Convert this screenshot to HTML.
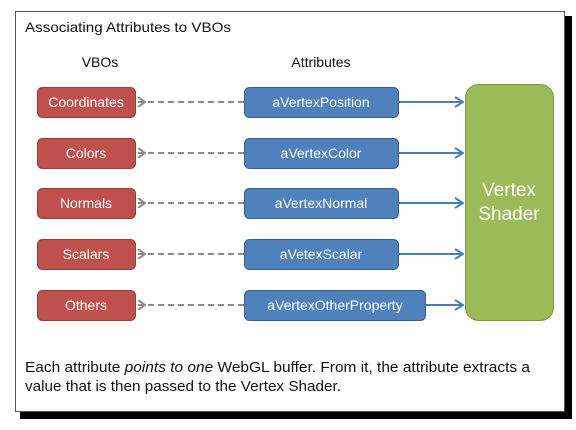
<!DOCTYPE html>
<html><head><style>
body{margin:0;background:#fff;width:576px;height:430px;overflow:hidden}
svg{display:block}
text{font-family:"Liberation Sans",sans-serif}
</style></head><body>
<svg width="576" height="430" viewBox="0 0 576 430">
<defs>
<marker id="ga" markerWidth="10" markerHeight="10" refX="8" refY="5" orient="auto" markerUnits="userSpaceOnUse"><path d="M8,0 L1,5 L8,10" fill="none" stroke="#8c8c8c" stroke-width="2"/></marker>
<marker id="ba" markerWidth="10" markerHeight="12" refX="9" refY="6" orient="auto" markerUnits="userSpaceOnUse"><path d="M1,1 L9,6 L1,11" fill="none" stroke="#4a7ebb" stroke-width="2"/></marker>
</defs>
<rect x="20" y="16" width="552" height="403" fill="#000"/>
<rect x="15.5" y="11.5" width="549" height="400" fill="#fff" stroke="#555" stroke-width="1"/>
<text x="25" y="32" font-size="14" fill="#111" textLength="206" lengthAdjust="spacingAndGlyphs">Associating Attributes to VBOs</text>
<text x="100" y="67" font-size="14" text-anchor="middle" fill="#111">VBOs</text>
<text x="321" y="67" font-size="14" text-anchor="middle" fill="#111">Attributes</text>
<rect x="465.5" y="84.5" width="88" height="236" rx="13" fill="#9bbb59" stroke="#7a9a40"/>
<text x="509" y="196" font-size="19" text-anchor="middle" fill="#fff">Vertex</text>
<text x="509" y="220" font-size="19" text-anchor="middle" fill="#fff">Shader</text>
<g font-size="14" text-anchor="middle" fill="#fff">
<rect x="37.5" y="87.5" width="98" height="30" rx="5" fill="#c0504d" stroke="#963c3a"/><text x="86" y="107">Coordinates</text>
<rect x="37.5" y="138.5" width="98" height="30" rx="5" fill="#c0504d" stroke="#963c3a"/><text x="86" y="158">Colors</text>
<rect x="37.5" y="188.5" width="98" height="30" rx="5" fill="#c0504d" stroke="#963c3a"/><text x="86" y="208">Normals</text>
<rect x="37.5" y="239.5" width="98" height="30" rx="5" fill="#c0504d" stroke="#963c3a"/><text x="86" y="259">Scalars</text>
<rect x="37.5" y="290.5" width="98" height="30" rx="5" fill="#c0504d" stroke="#963c3a"/><text x="86" y="310">Others</text>
<rect x="244.5" y="87.5" width="154" height="30" rx="5" fill="#4f81bd" stroke="#385d8a"/><text x="321" y="107">aVertexPosition</text>
<rect x="244.5" y="138.5" width="154" height="30" rx="5" fill="#4f81bd" stroke="#385d8a"/><text x="321" y="158">aVertexColor</text>
<rect x="244.5" y="188.5" width="154" height="30" rx="5" fill="#4f81bd" stroke="#385d8a"/><text x="321" y="208">aVertexNormal</text>
<rect x="244.5" y="239.5" width="154" height="30" rx="5" fill="#4f81bd" stroke="#385d8a"/><text x="321" y="259">aVetexScalar</text>
<rect x="244.5" y="290.5" width="181" height="30" rx="5" fill="#4f81bd" stroke="#385d8a"/><text x="335" y="310">aVertexOtherProperty</text>
</g>
<g stroke="#8c8c8c" stroke-width="2" stroke-dasharray="6,4">
<line x1="244" y1="102" x2="138" y2="102" marker-end="url(#ga)"/>
<line x1="244" y1="153" x2="138" y2="153" marker-end="url(#ga)"/>
<line x1="244" y1="203" x2="138" y2="203" marker-end="url(#ga)"/>
<line x1="244" y1="254" x2="138" y2="254" marker-end="url(#ga)"/>
<line x1="244" y1="305" x2="138" y2="305" marker-end="url(#ga)"/>
</g>
<g stroke="#4a7ebb" stroke-width="2">
<line x1="399" y1="102" x2="463" y2="102" marker-end="url(#ba)"/>
<line x1="399" y1="153" x2="463" y2="153" marker-end="url(#ba)"/>
<line x1="399" y1="203" x2="463" y2="203" marker-end="url(#ba)"/>
<line x1="399" y1="254" x2="463" y2="254" marker-end="url(#ba)"/>
<line x1="426" y1="305" x2="463" y2="305" marker-end="url(#ba)"/>
</g>
<text x="25" y="372" font-size="14.5" fill="#111" textLength="505" lengthAdjust="spacingAndGlyphs">Each attribute <tspan font-style="italic">points to one</tspan> WebGL buffer. From it, the attribute extracts a</text>
<text x="25" y="391" font-size="14.5" fill="#111" textLength="316" lengthAdjust="spacingAndGlyphs">value that is then passed to the Vertex Shader.</text>
</svg>
</body></html>
